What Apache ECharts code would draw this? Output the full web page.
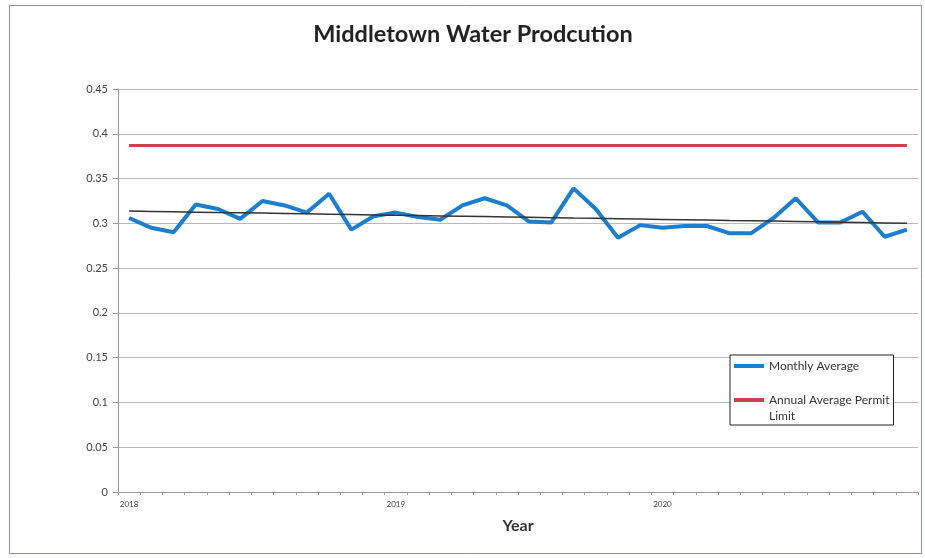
<!DOCTYPE html>
<html>
<head>
<meta charset="utf-8">
<script src="https://cdn.jsdelivr.net/npm/echarts@6/dist/echarts.min.js"></script>
<style>
  html, body { margin: 0; padding: 0; background: #fff; }
  #chart { width: 925px; height: 558px; }
</style>
</head>
<body>
<div id="chart"></div>
<script>
// Monthly production, Jan 2018 - Dec 2020 (MGD)
const years = ['2018', '2019', '2020'];
const months = ['01', '02', '03', '04', '05', '06', '07', '08', '09', '10', '11', '12'];
const monthlyAverage = [
  0.306, 0.295, 0.290, 0.321, 0.316, 0.305, 0.325, 0.320, 0.312, 0.333, 0.293, 0.308,
  0.312, 0.307, 0.304, 0.320, 0.328, 0.320, 0.302, 0.301, 0.339, 0.316, 0.284, 0.298,
  0.295, 0.297, 0.297, 0.289, 0.289, 0.306, 0.328, 0.301, 0.301, 0.313, 0.285, 0.293
];
const permitLimit = 0.387;
const yTicks = [0, 0.05, 0.1, 0.15, 0.2, 0.25, 0.3, 0.35, 0.4, 0.45];

const categories = [];
years.forEach(y => months.forEach(m => categories.push(y + '-' + m)));

// Constant permit limit drawn across every month
const permitSeries = categories.map(() => permitLimit);

// Least-squares linear trend of the monthly averages
const n = monthlyAverage.length;
let sx = 0, sy = 0, sxy = 0, sxx = 0;
monthlyAverage.forEach((v, i) => { sx += i; sy += v; sxy += i * v; sxx += i * i; });
const slope = (n * sxy - sx * sy) / (n * sxx - sx * sx);
const intercept = (sy - slope * sx) / n;
const trend = monthlyAverage.map((_, i) => +(intercept + slope * i).toFixed(4));

const font = 'Lato, "Open Sans", sans-serif';
const chart = echarts.init(document.getElementById('chart'), null, { renderer: 'canvas' });

chart.setOption({
  backgroundColor: '#ffffff',
  animation: false,
  title: {
    text: 'Middletown Water Prodcution',
    left: 468,
    textAlign: 'center',
    top: 17,
    textStyle: { fontFamily: font, fontSize: 23.5, fontWeight: 'bold', color: '#222' }
  },
  grid: { left: 118, right: 7, top: 89, bottom: 66, containLabel: false },
  legend: {
    orient: 'vertical',
    left: 730,
    top: 355,
    padding: [3, 4, 1, 4],
    itemGap: 2,
    itemWidth: 30,
    itemHeight: 4,
    icon: 'rect',
    backgroundColor: '#ffffff',
    borderColor: '#222',
    borderWidth: 1,
    data: ['Monthly Average', 'Annual Average Permit Limit'],
    // the leading blank line keeps the icon level with the first line of the wrapped label
    formatter: name => name === 'Annual Average Permit Limit' ? '\nAnnual Average Permit\nLimit' : name,
    textStyle: { fontFamily: font, fontSize: 12, color: '#333', lineHeight: 16 }
  },
  xAxis: {
    type: 'category',
    data: categories,
    boundaryGap: true,
    name: 'Year',
    nameLocation: 'middle',
    nameGap: 26,
    nameTextStyle: { fontFamily: font, fontSize: 16, fontWeight: 'bold', color: '#333' },
    axisLine: { lineStyle: { color: '#999', width: 1 } },
    axisTick: { show: true, interval: 0, length: 3, lineStyle: { color: '#999' } },
    axisLabel: {
      interval: 0,
      fontFamily: font,
      fontSize: 8,
      color: '#444',
      margin: 8,
      formatter: v => v.endsWith('-01') ? v.slice(0, 4) : ''
    },
    splitLine: { show: false }
  },
  yAxis: {
    type: 'value',
    min: yTicks[0],
    max: yTicks[yTicks.length - 1],
    interval: 0.05,
    axisLine: { show: true, lineStyle: { color: '#999', width: 1 } },
    axisTick: { show: true, inside: false, length: 5, lineStyle: { color: '#999' } },
    axisLabel: { fontFamily: font, fontSize: 11, color: '#444', margin: 10 },
    splitLine: { show: true, lineStyle: { color: '#b8b8c2', width: 1 } }
  },
  series: [
    {
      name: 'Monthly Average',
      type: 'line',
      data: monthlyAverage,
      symbol: 'none',
      lineStyle: { color: '#1b7ecf', width: 4 },
      itemStyle: { color: '#1b7ecf' },
      z: 3
    },
    {
      name: 'Annual Average Permit Limit',
      type: 'line',
      data: permitSeries,
      symbol: 'none',
      lineStyle: { color: '#c9424c', width: 3 },
      itemStyle: { color: '#c9424c' },
      z: 2
    },
    {
      name: 'Trend',
      type: 'line',
      data: trend,
      symbol: 'none',
      lineStyle: { color: '#333', width: 1.5 },
      itemStyle: { color: '#333' },
      z: 4
    }
  ],
  graphic: [
    {
      type: 'rect',
      shape: { x: 9.5, y: 5.5, width: 912, height: 548 },
      style: { fill: 'none', stroke: '#8a968a', lineWidth: 1 },
      silent: true,
      z: -1
    }
  ]
});
</script>
</body>
</html>
